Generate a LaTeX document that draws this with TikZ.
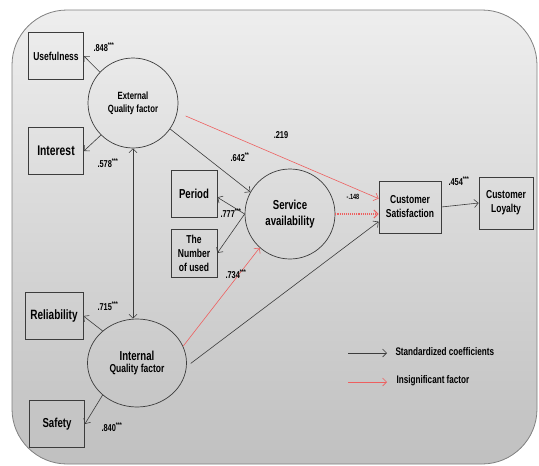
\documentclass[tikz,border=0pt]{standalone}
\usepackage{fontspec}
\setmainfont{Liberation Sans}[FakeStretch=0.74]
\usetikzlibrary{arrows.meta,shapes.geometric}
\definecolor{linegray}{RGB}{60,60,60}
\definecolor{sigred}{RGB}{238,95,95}
\definecolor{bgtop}{RGB}{238,238,238}
\definecolor{bgbot}{RGB}{192,192,192}
\newcommand\fsz[2]{\fontsize{#1}{#2}\selectfont\bfseries}

\begin{document}
\begin{tikzpicture}[x=1pt,y=-1pt,
  box/.style={draw=linegray,line width=.7pt,minimum width=55pt,minimum height=47pt,inner sep=1pt,align=center},
  lat/.style={draw=linegray,line width=.7pt,circle,minimum size=90pt,inner sep=0pt,align=center},
  arr/.style={draw=linegray,line width=.6pt,-{Straight Barb[length=4pt,width=8pt]}},
  insig/.style={draw=sigred,line width=.6pt,-{Straight Barb[length=4pt,width=8pt]}},
  coef/.style={font=\fsz{10}{11}}]
\useasboundingbox (0,0) rectangle (539,466);
\shade[top color=bgtop,bottom color=bgbot,draw=gray,line width=.8pt,rounded corners=55pt] (12,10) rectangle (537,464);
% latent factors
\node[lat,font=\fsz{10.5}{13}] (ext) at (133,103) {External\\Quality factor};
\node[lat,font=\fsz{13}{16.5}] (serv) at (290,214) {Service\\availability};
\node[lat,ellipse,minimum width=99pt,minimum height=88pt] (int) at (137,363) {{\fsz{13}{15}Internal}\\{\fsz{11.5}{14}Quality factor}};
% observed variables
\node[box,font=\fsz{11.5}{14}] (use) at (56,56) {Usefulness};
\node[box,font=\fsz{14}{16}] (intr) at (56,151) {Interest};
\node[box,font=\fsz{13.5}{16},minimum width=58pt] (rel) at (54,316) {Reliability};
\node[box,font=\fsz{13}{16}] (safe) at (57,424) {Safety};
\node[box,font=\fsz{13}{16},minimum width=46pt] (per) at (194,194) {Period};
\node[box,font=\fsz{11.5}{14},minimum width=46pt,minimum height=48pt] (num) at (194,253) {The\\Number\\of used};
\node[box,font=\fsz{11.5}{14},minimum width=62pt,minimum height=52pt] (sat) at (410,207) {Customer\\Satisfaction};
\node[box,font=\fsz{11.5}{14},minimum width=54pt,minimum height=52pt] (loy) at (506,203) {Customer\\Loyalty};
% paths
\draw[arr] (ext.137) -- (use.east);
\draw[arr] (ext.225) -- (intr.east);
\draw[arr,{Straight Barb[length=4pt,width=8pt]}-{Straight Barb[length=4pt,width=8pt]}] (ext.south) -- (ext.south |- int.north);
\draw[arr] (ext.325) -- (serv.151);
\draw[insig,shorten <=9pt] (ext.-12) -- (sat.165);
\draw[arr] (serv.west) -- (per.-8);
\draw[arr] (serv.west) -- (num.east);
\draw[insig] (int.20) -- (serv.228);
\draw[arr,shorten <=5pt] (int.-4) -- (sat.205);
\draw[insig,line width=1.1pt,densely dotted] (serv.east) -- (serv.east -| sat.west);
\draw[arr] (sat.east) -- (loy.west);
\draw[arr] (int.137) -- (rel.east);
\draw[arr] (int.223) -- (safe.east);
% coefficients
\node[coef] (c1) at (104,47) {.848\textsuperscript{***}};
\node[coef] (c2) at (108,163) {.578\textsuperscript{***}};
\node[coef] (c3) at (240,157) {.642\textsuperscript{**}};
\node[coef] (c4) at (281,135) {.219};
\node[font=\fsz{7.5}{8}] (c5) at (353,197) {-.148};
\node[coef] (c6) at (459,181) {.454\textsuperscript{***}};
\node[coef] (c7) at (231,213) {.777\textsuperscript{***}};
\node[coef] (c8) at (236,274) {.734\textsuperscript{***}};
\node[coef] (c9) at (108,306) {.715\textsuperscript{***}};
\node[coef] (c10) at (112,427) {.840\textsuperscript{***}};
% legend
\coordinate (lga) at (348,353); \coordinate (lgb) at (387,353);
\coordinate (lgc) at (348,382); \coordinate (lgd) at (387,382);
\draw[arr] (lga) -- (lgb);
\draw[insig] (lgc) -- (lgd);
\node[anchor=west,font=\fsz{11}{13}] (lgt1) at (392,352) {Standardized coefficients};
\node[anchor=west,font=\fsz{11}{13}] (lgt2) at (393,381) {Insignificant factor};
\end{tikzpicture}
\end{document}
